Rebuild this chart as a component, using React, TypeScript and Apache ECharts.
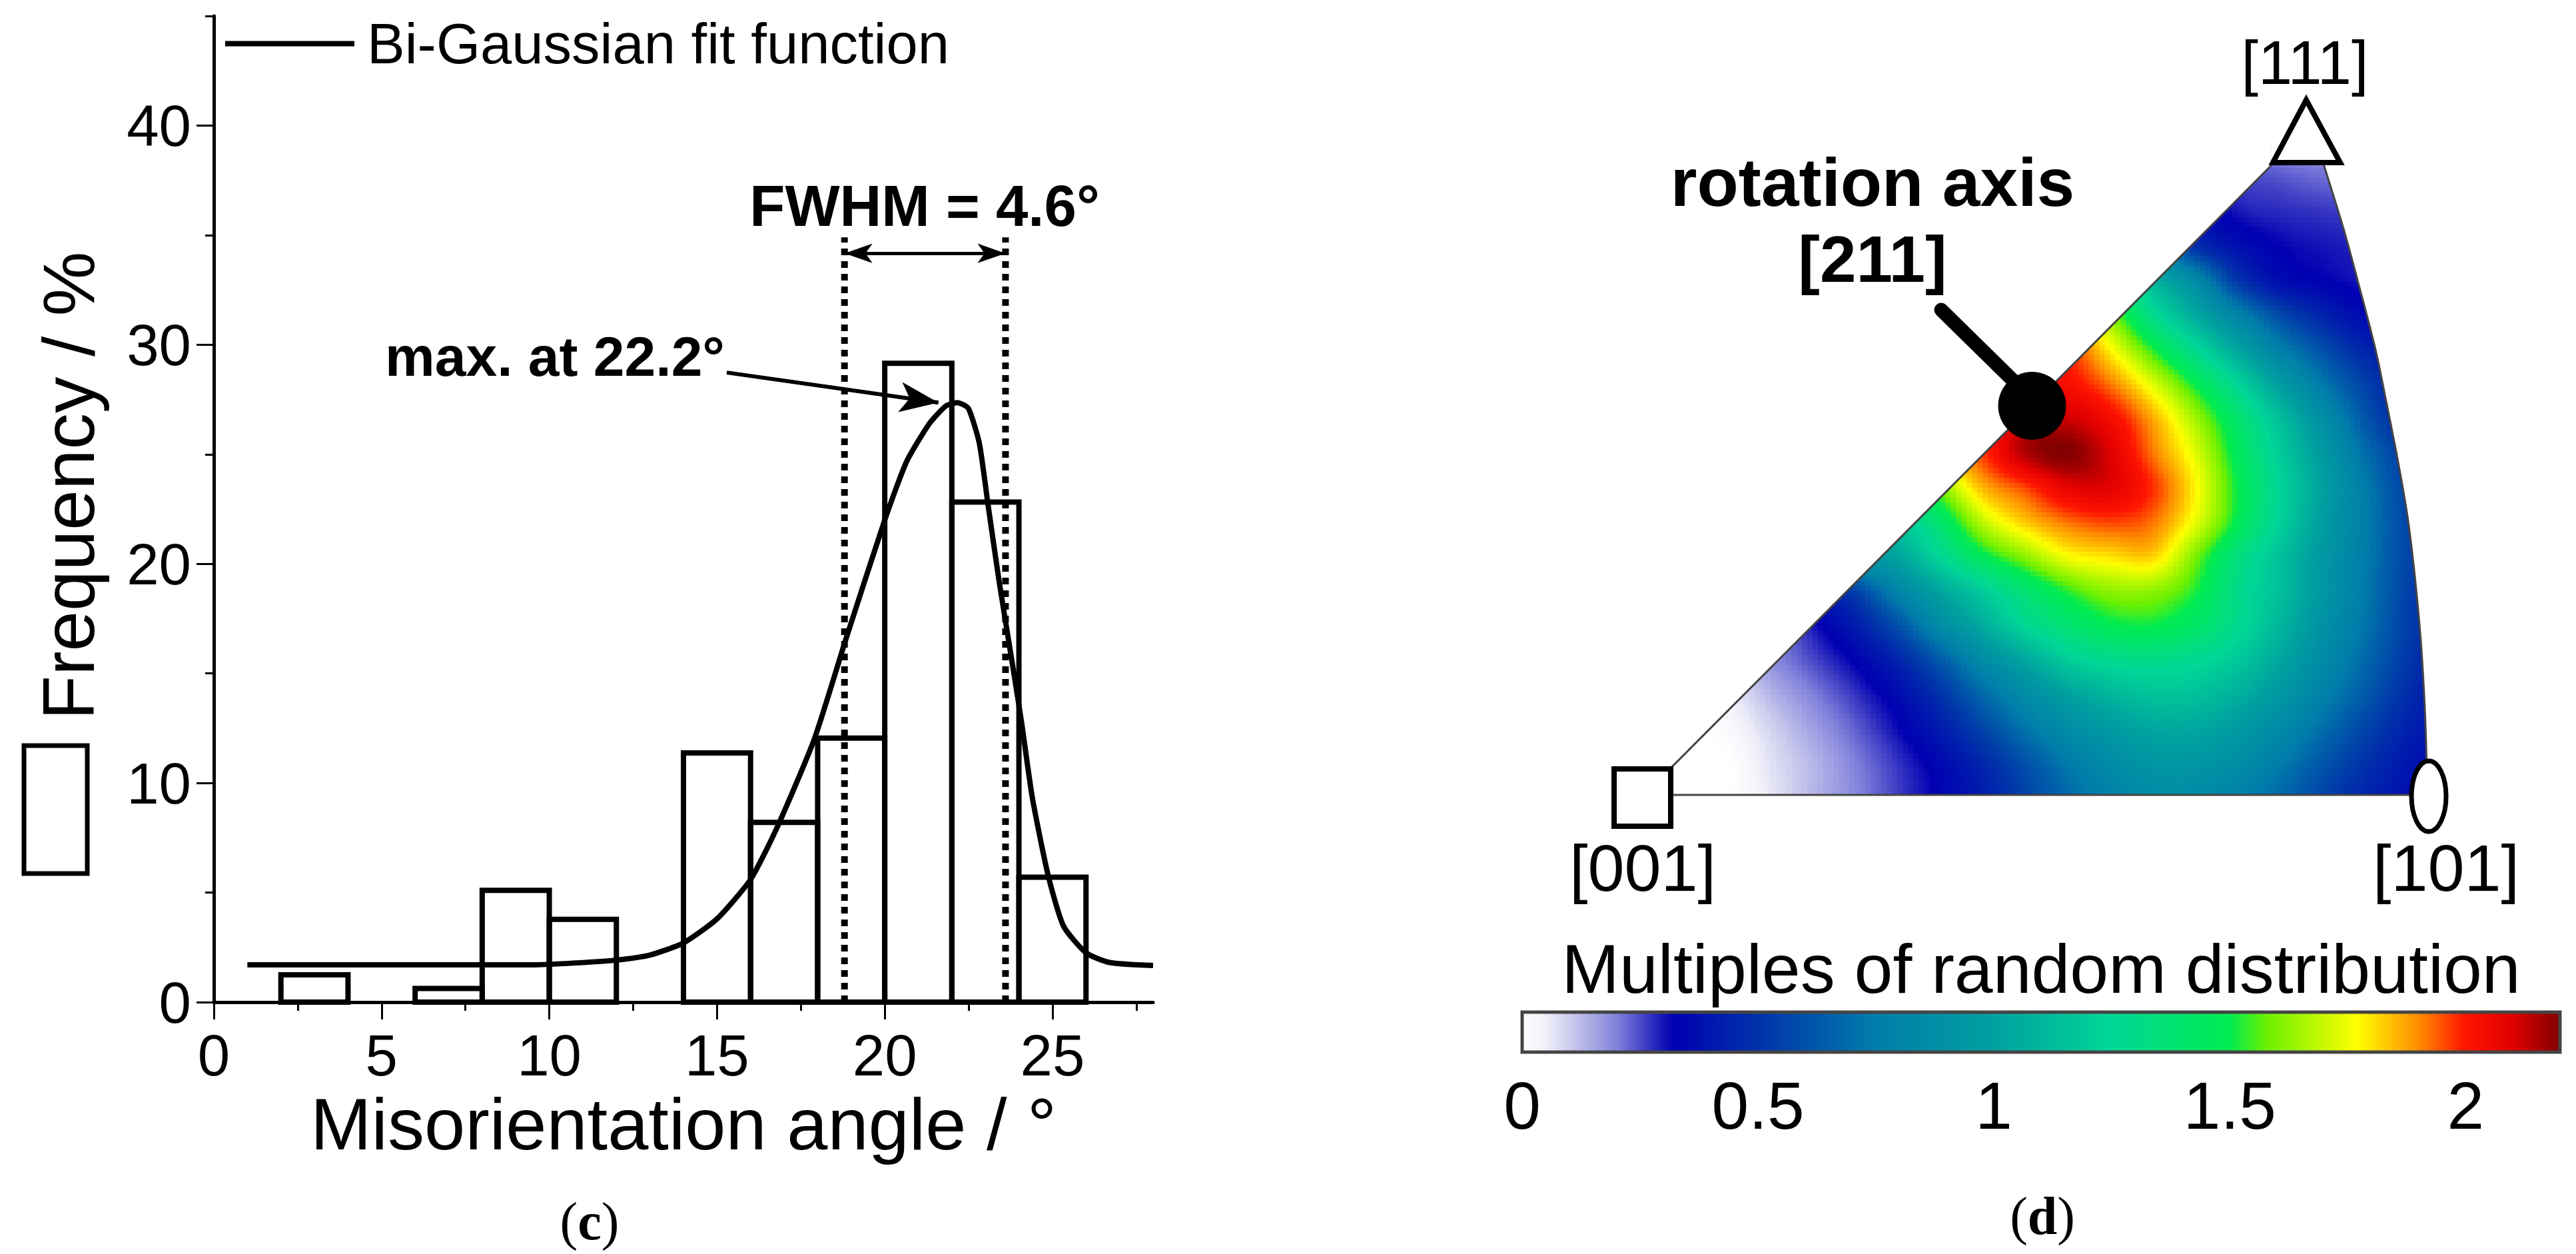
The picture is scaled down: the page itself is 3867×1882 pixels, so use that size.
import React, { useEffect, useRef } from "react";
import * as echarts from "echarts";

const FONT = "'Liberation Sans', Arial, sans-serif";
const SERIF = "'Liberation Serif', serif";

// ---- panel (c)
const binCenters = [3, 7, 9, 11, 15, 17, 19, 21, 23, 25];
const binFrequency = [1.25, 0.62, 5.1, 3.78, 11.37, 8.2, 12.05, 29.15, 22.82, 5.7];
const binWidth = 2;
const fitX = [1, 5, 9.5, 10.8, 12, 13, 14, 15, 16, 16.8, 17.9, 18.85, 20, 20.65, 21.33, 21.82, 22.16, 22.49, 22.82, 23.07, 23.41, 23.83, 24.08, 24.4, 24.87, 25.33, 26, 26.7, 28];
const fitY = [1.7, 1.7, 1.7, 1.79, 1.92, 2.15, 2.7, 3.8, 5.6, 8, 12, 16.6, 22, 24.66, 26.4, 27.2, 27.36, 27.1, 25.5, 22.8, 19.2, 15.2, 12.75, 9.33, 5.79, 3.47, 2.25, 1.81, 1.67];
const xMajor = [0, 5, 10, 15, 20, 25];
const xMinor = [2.5, 7.5, 12.5, 17.5, 22.5, 27.5];
const yMajor = [0, 10, 20, 30, 40];
const yMinor = [5, 15, 25, 35, 45];
const fwhmLeft = 18.8;
const fwhmRight = 23.6;
const fwhmTop = 34.9;
const fwhmArrowY = 34.17;
const maxArrowFrom = [15.29, 28.73];
const maxArrowTo = [21.6, 27.36];

// ---- panel (d): multiples of random distribution read at nodes of a grid over the triangle
const ipfX = [250, 310, 370, 430, 490, 550, 610, 670, 730, 790, 850, 910, 970, 1030, 1090, 1150, 1210, 1270, 1330, 1390];
const ipfY = [250, 310, 370, 430, 490, 550, 610, 670, 730, 790, 850, 910, 970, 1030, 1090, 1150, 1210, 1270, 1330, 1390];
const n = null;
const mrdTable = [
  [n, n, n, n, n, n, n, n, n, n, n, n, n, n, .24, .18, .18, .18, n, n],
  [n, n, n, n, n, n, n, n, n, n, n, n, n, .3, .26, .24, .22, .22, n, n],
  [n, n, n, n, n, n, n, n, n, n, n, n, .5, .38, .3, .28, .27, .26, n, n],
  [n, n, n, n, n, n, n, n, n, n, n, .95, .8, .5, .38, .32, .3, .29, n, n],
  [n, n, n, n, n, n, n, n, n, n, n, 1.4, 1.1, .85, .52, .37, .33, .3, .3, n],
  [n, n, n, n, n, n, n, n, n, n, 1.9, 1.62, 1.3, 1.05, .8, .58, .45, .35, .32, n],
  [n, n, n, n, n, n, n, n, n, 2, 1.98, 1.78, 1.53, 1.28, 1.03, .78, .6, .45, .38, n],
  [n, n, n, n, n, n, n, n, 2, 2.06, 2.03, 1.92, 1.73, 1.5, 1.25, .98, .74, .55, .42, n],
  [n, n, n, n, n, n, n, n, 2, 2.12, 2.12, 2.04, 1.87, 1.65, 1.4, 1.14, .88, .62, .45, .4],
  [n, n, n, n, n, n, n, 1.85, 1.97, 2.15, 2.2, 2.1, 1.92, 1.73, 1.46, 1.2, .96, .7, .52, .45],
  [n, n, n, n, n, n, 1.3, 1.6, 1.85, 1.96, 2.08, 2.09, 1.98, 1.78, 1.5, 1.24, 1, .75, .55, .46],
  [n, n, n, n, n, .9, 1.15, 1.4, 1.68, 1.83, 1.92, 1.96, 1.92, 1.74, 1.48, 1.22, .98, .76, .56, .46],
  [n, n, n, n, .6, .9, 1.02, 1.25, 1.47, 1.62, 1.76, 1.8, 1.82, 1.6, 1.35, 1.15, .95, .75, .56, .46],
  [n, n, n, .25, .4, .55, .8, 1.02, 1.2, 1.38, 1.53, 1.62, 1.62, 1.52, 1.3, 1.14, .94, .74, .55, .45],
  [n, n, n, .2, .3, .42, .6, .85, 1.05, 1.25, 1.38, 1.48, 1.5, 1.42, 1.28, 1.1, .9, .72, .54, .44],
  [n, n, .1, .18, .25, .33, .45, .63, .85, 1.03, 1.2, 1.28, 1.3, 1.27, 1.18, 1.03, .85, .68, .52, .42],
  [n, 0, .05, .13, .2, .27, .36, .5, .68, .85, 1, 1.1, 1.16, 1.15, 1.07, .94, .78, .63, .48, .4],
  [0, 0, .02, .09, .16, .23, .31, .42, .56, .72, .86, .96, 1.03, 1.03, .96, .84, .7, .56, .44, .38],
  [0, 0, 0, .07, .13, .2, .27, .35, .46, .6, .74, .85, .93, .93, .87, .75, .62, .5, .4, .35],
  [0, 0, 0, .06, .13, .19, .26, .33, .42, .55, .68, .78, .85, .85, .78, .68, .56, .45, .38, .34],
];
const leftVertex = [252, 1385];
const apexLeft = [1138, 288];
const arcX = [1212, 1240, 1262, 1285, 1300, 1316, 1330, 1340, 1349, 1355, 1358];
const arcY = [288, 400, 500, 610, 700, 800, 900, 1000, 1120, 1250, 1385];

// ---- colour scale
const mrdLevels = [0, .05, .1, .2, .28, .32, .5, .75, 1, 1.25, 1.5, 1.58, 1.77, 1.9, 2, 2.1, 2.2];
const mrdColors = [
  [255, 255, 255], [240, 240, 250], [205, 205, 238], [130, 130, 220], [40, 40, 190], [0, 0, 178], [0, 50, 170],
  [0, 125, 170], [0, 160, 160], [0, 215, 150], [0, 235, 80], [110, 240, 0], [255, 255, 0], [255, 140, 0],
  [255, 20, 0], [225, 0, 0], [130, 0, 0],
];
const barMax = 2.2;
const barTicks = [0, 0.5, 1, 1.5, 2];

function mrdColor(v: number) {
  let k = 0;
  while (k < mrdLevels.length - 2 && v > mrdLevels[k + 1]) k++;
  const t = Math.max(0, Math.min(1, (v - mrdLevels[k]) / (mrdLevels[k + 1] - mrdLevels[k])));
  const a = mrdColors[k];
  const b = mrdColors[k + 1];
  return `rgb(${a.map((c, m) => Math.round(c + (b[m] - c) * t)).join(",")})`;
}

const ipfCells: number[][] = [];
for (let j = 0; j < ipfY.length - 1; j++) {
  for (let i = 0; i < ipfX.length - 1; i++) {
    const a = mrdTable[j][i], b = mrdTable[j][i + 1], c = mrdTable[j + 1][i], d = mrdTable[j + 1][i + 1];
    if (a === null || b === null || c === null || d === null) continue;
    ipfCells.push([ipfX[i], ipfY[j], ipfX[i + 1], ipfY[j + 1], i, j]);
  }
}

const SUB_X = 8;
const SUB_Y = 7;

// shading between the read nodes (Catmull-Rom), falling back on the cell's own corner where a node was not read
function node(j: number, i: number, j0: number, i0: number) {
  const row = mrdTable[j];
  const v = row ? row[i] : undefined;
  if (v !== null && v !== undefined) return v;
  const jj = Math.min(j0 + 1, Math.max(j0, j));
  const ii = Math.min(i0 + 1, Math.max(i0, i));
  return mrdTable[jj][ii] as number;
}
function cubic(p0: number, p1: number, p2: number, p3: number, t: number) {
  return 0.5 * (2 * p1 + (p2 - p0) * t + (2 * p0 - 5 * p1 + 4 * p2 - p3) * t * t + (3 * p1 - p0 - 3 * p2 + p3) * t * t * t);
}
function shade(j0: number, i0: number, t: number, u: number) {
  const rows = [-1, 0, 1, 2].map((dj) => {
    const vals = [-1, 0, 1, 2].map((di) => node(j0 + dj, i0 + di, j0, i0));
    return cubic(vals[0], vals[1], vals[2], vals[3], u);
  });
  return cubic(rows[0], rows[1], rows[2], rows[3], t);
}

function renderCell(_: any, api: any) {
  const x0 = api.value(0), y0 = api.value(1), x1 = api.value(2), y1 = api.value(3);
  const i0 = api.value(4), j0 = api.value(5);
  const p0 = api.coord([x0, y0]);
  const p1 = api.coord([x1, y1]);
  const w = (p1[0] - p0[0]) / SUB_X;
  const h = (p1[1] - p0[1]) / SUB_Y;
  const children: any[] = [];
  for (let s = 0; s < SUB_Y; s++) {
    for (let r = 0; r < SUB_X; r++) {
      const u = (r + 0.5) / SUB_X, t = (s + 0.5) / SUB_Y;
      children.push({
        type: "rect",
        shape: { x: p0[0] + r * w, y: p0[1] + s * h, width: w + 0.8, height: h + 0.8 },
        style: { fill: mrdColor(shade(j0, i0, t, u)) },
        silent: true,
      });
    }
  }
  return { type: "group", children };
}

function renderMask(_: any, api: any) {
  const arc = arcX.map((x, k) => api.coord([x, arcY[k]]));
  const lv = api.coord(leftVertex);
  const al = api.coord(apexLeft);
  const topL = api.coord([230, 230]);
  const botR = api.coord([1410, 1410]);
  const white = { fill: "#fff", stroke: "none" };
  const outline = { fill: "none", stroke: "#444", lineWidth: 3 };
  return {
    type: "group",
    children: [
      { type: "polygon", shape: { points: [[topL[0], botR[1]], [lv[0], botR[1]], lv, al, [al[0], topL[1]], topL] }, style: white },
      { type: "polygon", shape: { points: [[al[0], topL[1]], al, ...arc, [botR[0], arc[arc.length - 1][1]], [botR[0], topL[1]]] }, style: white },
      { type: "rect", shape: { x: topL[0], y: lv[1], width: botR[0] - topL[0], height: botR[1] - lv[1] }, style: white },
      { type: "polyline", shape: { points: [al, lv, arc[arc.length - 1]] }, style: outline },
      { type: "polyline", shape: { points: arc, smooth: 0.3 }, style: outline },
    ],
  };
}

function renderBins(_: any, api: any) {
  const c = api.value(0), f = api.value(1);
  const p0 = api.coord([c - binWidth / 2, f]);
  const p1 = api.coord([c + binWidth / 2, 0]);
  return {
    type: "rect",
    shape: { x: p0[0], y: p0[1], width: p1[0] - p0[0], height: p1[1] - p0[1] },
    style: { fill: "none", stroke: "#000", lineWidth: 8 },
  };
}

function renderColorBar(_: any, api: any) {
  const p0 = api.coord([0, 1]);
  const p1 = api.coord([barMax, 0]);
  const stops = mrdLevels.map((v, k) => ({ offset: v / barMax, color: `rgb(${mrdColors[k].join(",")})` }));
  return {
    type: "rect",
    shape: { x: p0[0], y: p0[1], width: p1[0] - p0[0], height: p1[1] - p0[1] },
    style: { fill: new echarts.graphic.LinearGradient(0, 0, 1, 0, stops), stroke: "#444", lineWidth: 5 },
  };
}

const axisLine = { show: true, onZero: false, lineStyle: { color: "#000", width: 5 } };

function buildOption() {
  const labelStyle = { color: "#000", fontFamily: FONT, fontSize: 87 };
  const nameStyle = { color: "#000", fontFamily: FONT, fontSize: 110 };
  const txt = (text: string, x: number, y: number, fontSize: number, bold = false, align = "center") => ({
    type: "text", x, y, z: 30,
    style: { text, fontFamily: FONT, fontSize, fontWeight: bold ? "bold" : "normal", fill: "#000", textAlign: align, textVerticalAlign: "bottom" },
  });
  const caption = (letter: string, x: number, y: number) => ({
    type: "text", x, y, z: 30,
    style: {
      text: `{p|(}{l|${letter}}{p|)}`,
      textAlign: "center", textVerticalAlign: "middle",
      rich: {
        p: { fontFamily: SERIF, fontSize: 80, fill: "#000" },
        l: { fontFamily: SERIF, fontSize: 80, fill: "#000", fontWeight: "bold" },
      },
    },
  });

  return {
    animation: false,
    backgroundColor: "#fff",
    grid: [
      { left: 321, top: 24, width: 1410, height: 1480 },
      { left: 2465.8, top: 215.3, width: 1212, height: 981.9 },
      { left: 2285, top: 1519, width: 1558, height: 60 },
    ],
    legend: {
      data: ["Bi-Gaussian fit function"],
      left: 333, top: 18, itemWidth: 194, itemHeight: 8, itemGap: 20,
      icon: "rect",
      textStyle: { color: "#000", fontFamily: FONT, fontSize: 85, padding: [0, 0, 0, 14] },
    },
    xAxis: [
      {
        type: "value", gridIndex: 0, min: 0, max: 28, position: "bottom",
        splitLine: { show: false }, axisLine,
        axisTick: { show: true, length: 26, customValues: xMajor, lineStyle: { color: "#000", width: 3 } },
        axisLabel: { show: true, customValues: xMajor, margin: 36, ...labelStyle },
        name: "Misorientation angle / °", nameLocation: "middle", nameGap: 113, nameTextStyle: nameStyle,
      },
      {
        type: "value", gridIndex: 0, min: 0, max: 28, position: "bottom",
        splitLine: { show: false }, axisLine: { show: false },
        axisTick: { show: true, length: 13, customValues: xMinor, lineStyle: { color: "#000", width: 3 } },
        axisLabel: { show: false },
      },
      { type: "value", gridIndex: 1, min: 250, max: 1390, show: false },
      {
        type: "value", gridIndex: 2, min: 0, max: barMax, position: "bottom",
        splitLine: { show: false }, axisLine: { show: false },
        axisTick: { show: true, inside: true, length: 18, customValues: barTicks, lineStyle: { color: "#222", width: 2 } },
        axisLabel: { show: true, customValues: barTicks, margin: 30, color: "#000", fontFamily: FONT, fontSize: 100 },
      },
    ],
    yAxis: [
      {
        type: "value", gridIndex: 0, min: 0, max: 45, position: "left",
        splitLine: { show: false }, axisLine,
        axisTick: { show: true, length: 26, customValues: yMajor, lineStyle: { color: "#000", width: 3 } },
        axisLabel: { show: true, customValues: yMajor, margin: 34, ...labelStyle },
      },
      {
        type: "value", gridIndex: 0, min: 0, max: 45, position: "left",
        splitLine: { show: false }, axisLine: { show: false },
        axisTick: { show: true, length: 13, customValues: yMinor, lineStyle: { color: "#000", width: 3 } },
        axisLabel: { show: false },
      },
      { type: "value", gridIndex: 1, min: 250, max: 1390, inverse: true, show: false },
      { type: "value", gridIndex: 2, min: 0, max: 1, show: false },
    ],
    series: [
      {
        name: "Frequency", type: "custom", xAxisIndex: 0, yAxisIndex: 0, z: 3, clip: false,
        data: binCenters.map((c, k) => [c, binFrequency[k]]),
        renderItem: renderBins, encode: { x: 0, y: 1 }, silent: true,
      },
      {
        name: "FWHM left", type: "line", xAxisIndex: 0, yAxisIndex: 0, z: 4, symbol: "none",
        data: [[fwhmLeft, 0], [fwhmLeft, fwhmTop]],
        lineStyle: { color: "#000", width: 10, type: [10, 9] },
      },
      {
        name: "FWHM right", type: "line", xAxisIndex: 0, yAxisIndex: 0, z: 4, symbol: "none",
        data: [[fwhmRight, 0], [fwhmRight, fwhmTop]],
        lineStyle: { color: "#000", width: 10, type: [10, 9] },
      },
      {
        name: "Bi-Gaussian fit function", type: "line", xAxisIndex: 0, yAxisIndex: 0, z: 5, symbol: "none",
        smooth: 0.2,
        data: fitX.map((x, k) => [x, fitY[k]]),
        lineStyle: { color: "#000", width: 8 }, itemStyle: { color: "#000" },
        markLine: {
          silent: true, animation: false, precision: 3,
          label: { show: false },
          data: [
            [
              { coord: [fwhmLeft, fwhmArrowY], symbol: "arrow", symbolSize: [22, 42], lineStyle: { color: "#000", width: 5, type: "solid" } },
              { coord: [fwhmRight, fwhmArrowY], symbol: "arrow", symbolSize: [22, 42] },
            ],
            [
              { coord: maxArrowFrom, symbol: "none", lineStyle: { color: "#000", width: 6, type: "solid" } },
              { coord: maxArrowTo, symbol: "arrow", symbolSize: [34, 58] },
            ],
          ],
        },
      },
      {
        name: "MRD", type: "custom", xAxisIndex: 2, yAxisIndex: 2, z: 2, clip: false, silent: true,
        data: ipfCells, renderItem: renderCell, encode: { x: 0, y: 1 },
      },
      {
        name: "Triangle edge", type: "custom", xAxisIndex: 2, yAxisIndex: 2, z: 3, clip: false, silent: true,
        data: [leftVertex], renderItem: renderMask, encode: { x: 0, y: 1 },
      },
      {
        name: "Colour scale", type: "custom", xAxisIndex: 3, yAxisIndex: 3, z: 2, clip: false, silent: true,
        data: [[0, 0]], renderItem: renderColorBar, encode: { x: 0, y: 1 },
      },
    ],
    graphic: [
      { type: "rect", z: 30, shape: { x: 36, y: 1119, width: 95, height: 192 }, style: { fill: "#fff", stroke: "#000", lineWidth: 7 } },
      {
        type: "text", z: 30, x: 103, y: 729, rotation: Math.PI / 2,
        style: { text: "Frequency / %", fontFamily: FONT, fontSize: 109, fill: "#000", textAlign: "center", textVerticalAlign: "middle" },
      },
      txt("FWHM = 4.6°", 1388, 352, 87, true),
      txt("max. at 22.2°", 833, 577, 84, true),
      caption("c", 885, 1833),

      { type: "line", z: 30, shape: { x1: 2914, y1: 465, x2: 3024, y2: 573 }, style: { stroke: "#000", lineWidth: 21, lineCap: "round" } },
      { type: "circle", z: 30, shape: { cx: 3050.5, cy: 609, r: 51 }, style: { fill: "#000" } },
      txt("rotation axis", 2811, 325, 102, true),
      txt("[211]", 2811, 438, 98, true),
      txt("[111]", 3460, 140, 92),
      txt("[001]", 2466, 1352, 99),
      txt("[101]", 3672, 1352, 99),
      { type: "rect", z: 30, shape: { x: 2423, y: 1154, width: 85, height: 86 }, style: { fill: "#fff", stroke: "#000", lineWidth: 8 } },
      { type: "ellipse", z: 30, shape: { cx: 3646, cy: 1195, rx: 26, ry: 53 }, style: { fill: "#fff", stroke: "#000", lineWidth: 7 } },
      { type: "polygon", z: 30, shape: { points: [[3462, 150], [3412, 244], [3513, 244]] }, style: { fill: "#fff", stroke: "#000", lineWidth: 8 } },
      txt("Multiples of random distribution", 3064, 1506, 104),
      caption("d", 3066, 1825),
    ],
  };
}

export default function App() {
  const ref = useRef<HTMLDivElement>(null);
  useEffect(() => {
    const chart = echarts.init(ref.current!, undefined, { renderer: "svg" });
    chart.setOption(buildOption() as any);
    return () => chart.dispose();
  }, []);
  return <div ref={ref} style={{ position: "absolute", left: 0, top: 0, width: 3867, height: 1882 }} />;
}
